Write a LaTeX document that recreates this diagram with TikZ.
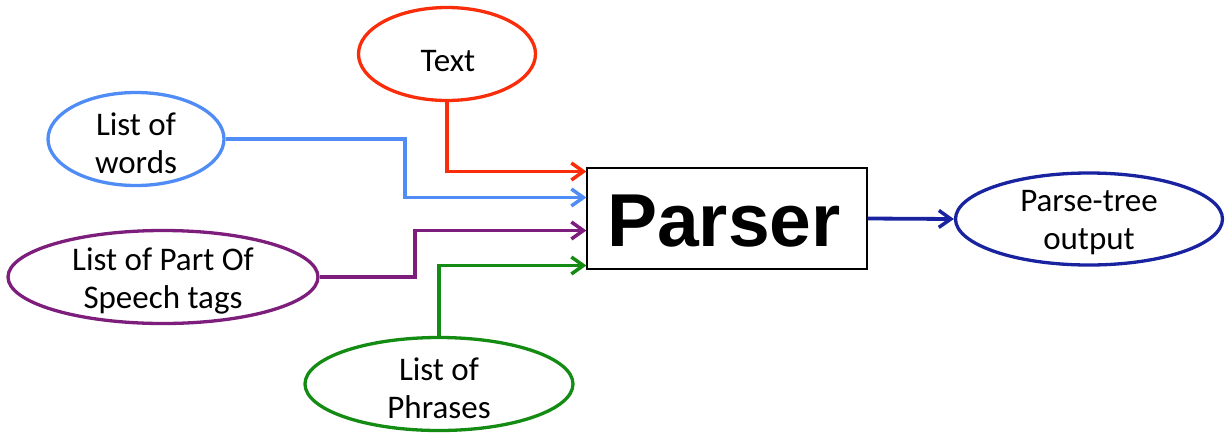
\documentclass[tikz,border=0pt]{standalone}
\usepackage{fontspec}
\setmainfont{Carlito}
\newfontfamily\boxfont{Liberation Sans}
\usetikzlibrary{arrows.meta,shapes.geometric,calc}

\definecolor{cText}{RGB}{250,45,10}
\definecolor{cWords}{RGB}{80,140,245}
\definecolor{cPos}{RGB}{125,30,125}
\definecolor{cPhr}{RGB}{20,140,20}
\definecolor{cOut}{RGB}{25,35,160}

\tikzset{
  x=1pt, y=-1pt,
  bubble/.style={ellipse, draw, line width=3.3pt, inner sep=0pt, fill=white},
  lbl/.style={align=center, inner sep=0pt, yshift=-4pt, font=\fontsize{33}{38}\selectfont},
  feed/.style={line width=3.8pt, -{Straight Barb[length=12pt,width=17pt,line width=3.5pt]}},
}

\begin{document}
\begin{tikzpicture}
\useasboundingbox (0,0) rectangle (1229,432);

% central parser block
\node[draw, line width=1.2pt, minimum width=280pt, minimum height=101pt, inner sep=0pt]
  (parser) at (727,218.5) {};
\node[inner sep=0pt, font=\boxfont\bfseries\fontsize{75}{80}\selectfont] (parserlbl) at (724,221.5) {Parser};

% input bubbles
\node[bubble, draw=cText,  minimum width=177pt, minimum height=93pt] (text)  at (447,54) {};
\node[bubble, draw=cWords, minimum width=176pt, minimum height=93pt] (words) at (136,139) {};
\node[bubble, draw=cPos,   minimum width=310pt, minimum height=93pt] (pos)   at (163,277) {};
\node[bubble, draw=cPhr,   minimum width=268pt, minimum height=93pt] (phr)   at (439,384) {};
% output bubble
\node[bubble, draw=cOut,   minimum width=267pt, minimum height=92pt] (out)   at (1089,219) {};

\node[lbl] at (448,57) {Text};
\node[lbl] at (words) {List of\\words};
\node[lbl] at (pos)   {List of Part Of\\Speech tags};
\node[lbl] at (phr)   {List of\\Phrases};
\node[lbl] at (out)   {Parse-tree\\output};

% entry points on the parser's left side
\coordinate (inA) at ($(parser.west)+(0,-47)$);
\coordinate (inB) at ($(parser.west)+(0,-21)$);
\coordinate (inC) at ($(parser.west)+(0,12)$);
\coordinate (inD) at ($(parser.west)+(0,47)$);
% bends of the stepped connectors
\coordinate (bendW) at (405,139);
\coordinate (bendP) at (415,277);

\draw[feed, cText]  (text.south) |- (inA);
\draw[feed, cWords] (words.east) -- (bendW) |- (inB);
\draw[feed, cPos]   (pos.east) -- (bendP) |- (inC);
\draw[feed, cPhr]   (phr.north) |- (inD);
\draw[feed, cOut]   (parser.east) -- (out.west);
\end{tikzpicture}
\end{document}
